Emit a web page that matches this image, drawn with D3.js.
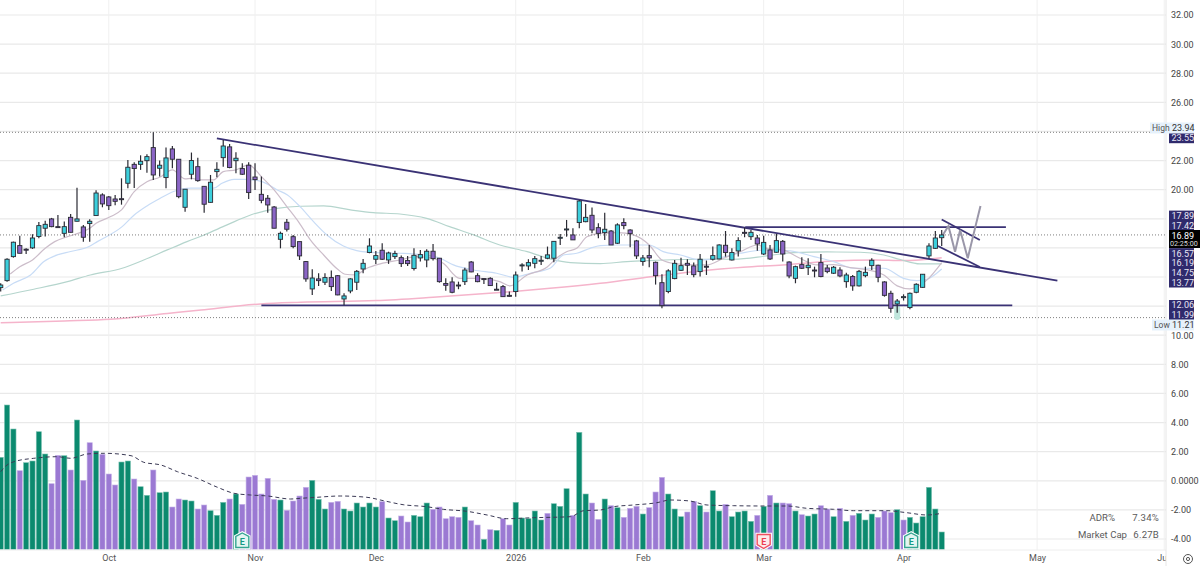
<!DOCTYPE html>
<html>
<head>
<meta charset="utf-8">
<script src="https://cdn.jsdelivr.net/npm/d3@7"></script>
<style>
  html, body { margin: 0; padding: 0; background: #fff; }
  svg { display: block; font-family: Roboto, "Liberation Sans", sans-serif; }
</style>
</head>
<body>
<script>
// daily candles, one entry per session
const opens = [13.27,13.75,15.40,16.16,15.91,16.00,16.78,17.35,17.99,17.46,
  17.00,18.10,17.83,17.44,17.67,18.22,19.64,19.50,19.36,19.38,
  20.44,21.74,21.74,21.99,22.89,21.47,20.83,22.80,22.09,18.79,
  21.06,21.58,20.23,19.13,21.24,22.20,22.94,21.99,21.45,21.68,
  20.87,19.68,19.41,18.81,16.59,17.76,16.77,16.43,15.06,13.18,
  13.87,13.64,13.96,14.09,12.49,13.04,13.64,14.55,15.68,15.22,
  15.84,15.17,15.40,15.33,15.13,14.58,15.31,15.17,15.77,15.29,
  13.55,13.66,13.45,13.68,15.03,14.09,13.89,13.91,13.16,13.34,
  12.74,13.00,14.78,14.76,14.94,15.10,15.29,15.29,16.66,17.28,
  16.89,17.74,17.80,18.24,17.39,17.05,17.16,16.32,17.74,17.23,
  16.48,15.06,15.47,15.01,13.61,13.00,13.89,14.46,14.94,14.76,
  14.37,14.74,15.22,15.24,16.18,15.17,15.79,17.07,16.77,16.68,
  15.58,15.86,15.70,16.45,15.03,13.91,14.85,14.64,14.48,14.99,
  14.62,14.26,14.48,13.68,14.03,13.39,14.09,14.78,14.81,13.66,
  12.88,12.15,12.58,11.90,12.95,13.29,15.45,15.97,16.70];
const highs = [13.57,15.29,16.43,16.84,15.97,16.94,17.78,17.87,18.06,18.26,
  17.81,18.33,20.14,17.58,17.97,19.96,19.75,19.57,19.64,20.78,
  22.04,21.88,22.36,22.43,23.94,22.00,22.89,23.00,22.09,20.03,
  22.55,22.20,20.26,21.01,21.88,23.42,23.14,22.57,21.81,21.88,
  21.81,20.90,19.64,18.88,17.12,17.99,16.89,16.43,15.10,14.53,
  14.26,14.26,14.44,14.14,12.88,13.91,14.48,15.24,16.66,15.79,
  16.32,15.74,15.81,15.47,15.45,15.97,15.86,15.90,16.27,15.29,
  13.91,13.98,13.68,14.64,15.10,14.26,13.91,13.98,13.61,13.45,
  13.00,14.37,14.94,15.22,15.45,15.45,16.09,16.48,16.96,17.92,
  17.35,19.29,19.02,18.77,17.69,18.42,17.23,17.69,18.03,17.28,
  16.55,15.51,16.20,15.06,14.19,14.53,15.17,15.33,15.22,14.99,
  15.58,15.13,16.09,16.25,17.16,15.97,16.73,17.39,17.23,16.89,
  16.84,16.20,16.96,16.55,15.08,14.78,15.35,15.29,14.71,15.58,
  14.83,14.76,14.67,14.30,14.14,14.48,14.71,15.29,14.85,13.71,
  13.06,12.49,12.81,12.93,13.57,14.21,16.32,17.16,17.23];
const lows = [13.00,13.68,15.33,15.63,15.58,15.93,16.66,16.78,17.42,17.42,
  16.73,17.05,17.81,16.43,16.43,18.20,18.79,18.61,18.93,18.97,
  20.10,20.12,21.36,21.17,20.67,20.90,20.10,21.47,19.41,18.49,
  20.71,20.55,18.42,19.11,20.85,21.58,21.47,21.13,21.01,19.36,
  19.98,19.07,18.42,17.35,15.97,17.12,15.97,15.17,13.68,12.77,
  13.39,13.45,13.04,12.74,12.06,12.88,13.11,14.26,15.63,14.90,
  15.17,14.90,15.24,14.69,14.76,14.44,15.06,14.67,15.13,13.61,
  13.06,12.88,13.16,13.45,14.32,13.64,13.52,13.39,13.11,12.65,
  12.65,12.65,14.37,14.48,14.60,14.83,15.22,15.01,16.20,16.77,
  16.55,17.35,17.76,17.00,16.66,16.55,16.20,16.27,17.28,16.04,
  15.24,14.78,14.67,13.48,11.85,12.88,13.84,14.42,14.14,13.98,
  14.03,14.14,15.13,15.22,15.40,15.13,15.40,16.73,16.55,15.81,
  15.51,15.17,15.67,15.06,13.91,13.57,14.55,14.14,13.98,13.98,
  14.26,14.21,13.98,13.27,13.06,13.34,13.98,14.48,13.64,12.65,
  11.55,11.55,12.38,11.78,12.88,13.27,15.29,15.93,16.13];
const closes = [13.45,15.22,16.39,15.63,15.86,16.68,17.53,17.62,17.46,17.44,
  17.46,17.07,17.99,16.73,17.83,19.77,19.02,18.90,19.20,19.36,
  21.54,21.45,21.95,22.27,21.01,21.68,22.18,22.09,19.52,20.03,
  22.00,20.62,19.00,20.51,21.40,23.00,21.52,22.16,21.06,19.80,
  20.69,19.27,18.95,17.35,17.00,17.28,16.09,15.45,13.87,13.93,
  13.75,13.96,13.34,12.77,12.70,13.87,14.39,14.94,16.13,15.47,
  15.22,15.65,15.61,14.92,14.92,15.49,15.54,15.77,15.26,13.68,
  13.43,12.95,13.39,14.48,14.35,13.68,13.84,13.41,13.11,12.65,
  12.70,14.14,14.83,14.99,15.26,15.15,15.52,16.45,16.73,17.30,
  16.55,19.22,18.10,17.23,17.00,17.28,16.20,17.58,17.53,16.98,
  15.45,15.31,15.31,14.09,12.03,14.42,14.94,14.78,14.81,14.16,
  15.22,14.69,15.47,16.20,15.68,15.68,16.50,17.00,17.07,16.27,
  16.38,15.24,16.50,15.58,14.07,14.71,14.60,14.81,14.46,14.03,
  14.37,14.67,14.07,14.14,13.39,14.39,14.32,15.15,13.98,12.74,
  11.85,12.35,12.65,12.88,13.50,14.19,16.13,16.68,16.89];

// volume in millions, g = green bar, p = purple bar
const volumes = [46.1,72.25,60.25,39.4,43.4,44.25,58.9,47.75,32.9,47.1,
  46.9,39.75,64.75,34.6,53.4,49.25,47.6,37.75,32.25,43.75,
  44.25,35.25,31.4,27.1,39.75,28.4,28.75,21.25,25.25,24.75,
  24.25,20.25,22.25,19.4,17.1,23.6,25.25,27.75,22.6,36.25,
  37.1,27.75,35.6,25.1,24.75,19.6,24.25,26.75,31.1,34.6,
  25.1,20.25,23.6,24.1,20.25,19.25,23.25,21.25,23.25,21.25,
  23.9,15.75,14.4,16.75,13.75,17.1,16.4,23.25,20.1,21.25,
  15.4,16.4,16.1,21.25,14.4,12.25,5.1,9.9,9.6,15.4,
  12.25,23.6,15.75,15.4,19.25,14.75,18.1,22.9,21.6,30.4,
  17.1,58.6,27.75,23.25,15.1,25.25,21.9,20.9,16.1,20.6,
  21.6,17.75,20.9,28.75,36.1,27.75,20.25,16.4,18.75,24.1,
  21.9,18.75,29.4,19.25,22.6,16.4,18.75,19.25,14.1,17.1,
  21.6,27.1,23.25,23.25,22.9,19.25,17.4,16.75,17.75,21.9,
  20.25,16.4,20.6,14.1,17.1,18.1,14.75,17.75,16.1,19.25,
  18.4,19.9,14.75,16.1,13.25,16.4,31.1,20.25,8.75];
const volumeSides = ("gggpggggpp" + "gpgppgpppg" + "gpggpggppg" + "gppgggpgpp" + "ppppgppppg"
  + "ggppgggggg" + "pggppgggpp" + "pppgppgpgp" + "pgggggpggg" + "pggppgpgpp"
  + "pgpppgggpp" + "gpggpggggp" + "gpgppgpggp" + "pgpgpgggpp" + "pgpgggggg").split("");

// moving averages as [session, price] readings
const ma10 = [[1.5,14.21],[3,14.71],[5,15.17],[7,15.97],[8.5,16.43],[10.5,16.77],[12.5,17.05],[14,17.35],[15,17.69],[17.3,18.15],[19,18.61],[21,19.87],[23,20.55],[25,20.85],[27,21.36],[29,20.74],[30,20.78],[31.5,20.67],[33.5,20.67],[35,21.24],[37,21.36],[39,21.7],[41,20.9],[43,19.98],[45,18.84],[47,17.69],[48.7,16.55],[50.8,15.51],[53,14.53],[54.2,14.19],[55.7,14.14],[57.6,14.6],[59.7,14.9],[62.8,15.17],[65.4,15.4],[68,15.29],[69.6,14.94],[72.2,13.91],[75.4,13.91],[78.5,13.68],[80.1,13.39],[82.8,14.14],[85.9,14.67],[87.4,15.29],[89,15.74],[90.6,15.97],[92.2,16.77],[94.3,17.0],[97,17.05],[99.5,16.89],[102,16.2],[104,15.17],[106.3,14.9],[109,14.83],[111,14.83],[113.7,15.29],[116.3,15.74],[119,16.2],[120.5,15.97],[123,15.86],[125.7,15.29],[128.4,14.83],[131,14.85],[133.6,14.65],[136.3,14.5],[138.9,14.14],[141,13.39],[143,13.18],[145.7,13.8],[148,14.99]];
const ma20 = [[0.3,13.1],[2,13.57],[4.7,14.14],[6.8,15.06],[8.9,15.52],[11,15.75],[13.9,16.09],[15.2,16.43],[19.1,17.46],[21,18.26],[23,18.88],[25.1,19.41],[27.2,19.87],[29.9,20.1],[32,20.1],[33.5,20.1],[34.8,20.44],[36.7,20.71],[38.5,20.71],[41.1,20.55],[43.5,19.98],[45.1,19.64],[47.2,18.78],[49.2,17.8],[51.3,16.89],[53.9,16.13],[56,15.81],[59.1,15.67],[62.8,15.63],[66.5,15.51],[69.1,15.29],[71.2,14.83],[74.4,14.48],[78,14.26],[80.7,13.98],[83.3,14.26],[86.4,14.6],[88.5,15.51],[90.6,15.63],[92.7,15.97],[94.3,16.15],[96.9,16.2],[99.5,16.2],[102,16.2],[104.2,15.74],[106.9,15.51],[110,15.17],[112.6,15.29],[116.3,15.63],[120.5,15.86],[124.2,15.79],[127.9,15.4],[131,15.06],[134.1,14.6],[138.9,14.6],[142,13.91],[144.1,13.75],[145.4,13.8],[148,14.55]];
const ma50 = [[0,12.7],[5.2,13.16],[10.5,13.68],[14.1,14.14],[19.1,14.6],[22.5,15.17],[26.2,15.86],[29.3,16.43],[32,16.89],[35.6,17.58],[39.3,18.26],[43.5,18.72],[47.2,18.86],[50.8,18.88],[55,18.61],[58.6,18.42],[62.8,18.33],[67,18.03],[70.6,17.46],[74.4,16.89],[78.5,16.2],[82.8,15.74],[86.4,15.24],[89.6,14.99],[94.3,14.92],[98.5,15.06],[102,15.13],[110,15.22],[115.3,15.22],[120.5,15.45],[124.7,15.68],[130,15.72],[135.2,15.7],[138.9,15.51],[141.5,15.2],[144.6,14.9],[148,14.9]];
const ma200 = [[0,10.85],[10,10.98],[17.3,11.1],[26.2,11.5],[31.5,11.74],[40.9,12.15],[47.2,12.26],[59.1,12.38],[68,12.61],[78.5,12.93],[86.4,13.22],[94.3,13.57],[103.2,14.07],[110,14.42],[116.8,14.67],[123,14.83],[131,15.1],[137.3,15.17],[142,15.13],[148,15.33]];
const volumeMa = [[0,38.9],[1,42.25],[2.1,43.9],[5.2,45.6],[8.9,46.4],[11,45.6],[13.6,47.75],[16.3,48.1],[20.5,46.9],[22.5,43.6],[25.2,42.25],[27.8,38.9],[30.9,35.6],[34.1,31.1],[36.7,28.1],[39.3,27.25],[42,26.75],[45.6,25.25],[47.2,25.6],[49.7,26.1],[53.4,26.75],[57.6,26.1],[60.2,24.4],[63.3,22.4],[67,21.4],[69.6,20.1],[73.3,19.1],[76.5,17.25],[79.6,15.4],[83.8,15.9],[89.6,16.4],[91.7,19.4],[94.3,19.75],[96.4,21.4],[99.5,22.25],[103.2,23.4],[105.3,24.75],[108.4,24.25],[111.1,22.25],[115.3,21.9],[120.5,21.75],[123.7,21.75],[126.8,20.6],[131,20.1],[134.1,19.4],[139.4,19.4],[142.5,18.4],[145.7,17.25],[148,18.1]];

// hand drawn lines, [session, price] end points
const trendLines = [
  [[34,23.52],[166.2,13.75]],
  [[41,12.05],[159.1,12.05]],
  [[117.1,17.42],[158.1,17.42]],
  [[148,17.95],[154,16.54]],
  [[147.4,16.13],[154,14.69]]
];
const projection = [[148,16.77],[149.06,17.5],[150.1,15.74],[150.9,17.23],[152.1,15.29],[153.3,17.46],[154.1,18.88]];

const priceTicks = [32,30,28,26,24,22,20,18,16,14,12,10,8,6,4,2,0,-2,-4];
const hiddenTicks = [24,18,16,14,12];
const monthSessions = [17,40,59,81,101,120,142,163,183];
const monthLabels = ["Oct","Nov","Dec","2026","Feb","Mar","Apr","May","Jun"];
const dottedLevels = [23.94,16.89,11.21];
const levelBadges = [23.55,17.89,17.42,16.57,16.19,14.75,13.77,12.06,11.99];
const badgeSlots = [138,215.8,225.8,253.3,263,272.6,282.3,305.2,315.2];
const earnings = [{ s: 38, kind: "up" }, { s: 120, kind: "down" }, { s: 143.2, kind: "up" }];

const W = 1200, H = 566, paneR = 1166;
const C_UP = "#3ccfdc", C_DOWN = "#8b65c6", C_EDGE = "#2a2a33", C_LINE = "#3a3275";
const V_UP = "#0b8a6f", V_DOWN = "#9b79d3";

const x = d3.scaleLinear().domain([0, 148]).range([0.7, 941.7]);
const y = d3.scaleLinear().domain([-4, 32]).range([539, 15]);
const yVol = d3.scaleLinear().domain([0, 72]).range([549.5, 405.5]);
const sessions = d3.range(closes.length);

const svg = d3.select("body").append("svg").attr("width", W).attr("height", H);
svg.append("defs").append("clipPath").attr("id", "pane")
  .append("rect").attr("width", paneR).attr("height", H);

const pane = svg.append("g").attr("clip-path", "url(#pane)");

// grid
pane.selectAll(".hgrid").data(priceTicks).enter().append("line")
  .attr("x1", 0).attr("x2", paneR).attr("y1", d => y(d)).attr("y2", d => y(d))
  .attr("stroke", "#e9e9e9").attr("stroke-width", 1.2);
pane.selectAll(".vgrid").data(monthSessions).enter().append("line")
  .attr("x1", d => x(d)).attr("x2", d => x(d)).attr("y1", 0).attr("y2", 550)
  .attr("stroke", "#f0f0f0").attr("stroke-width", 1);
svg.append("line").attr("x1", 0).attr("x2", paneR).attr("y1", 550).attr("y2", 550).attr("stroke", "#eeeeee");
svg.append("line").attr("x1", paneR).attr("x2", paneR).attr("y1", 0).attr("y2", H).attr("stroke", "#e6e6e6");

// volume
pane.selectAll(".vol").data(sessions).enter().append("rect")
  .attr("x", i => x(i) - 2.6).attr("width", 5.2)
  .attr("y", i => yVol(volumes[i])).attr("height", i => yVol(0) - yVol(volumes[i]))
  .attr("fill", i => volumeSides[i] === "g" ? V_UP : V_DOWN)
  .attr("stroke", i => volumeSides[i] === "g" ? "#7fc2b3" : "#c6b4e8").attr("stroke-width", 0.6);

const vLine = d3.line().x(d => x(d[0])).y(d => yVol(d[1])).curve(d3.curveMonotoneX);
pane.append("path").attr("d", vLine(volumeMa)).attr("fill", "none")
  .attr("stroke", "#3b3a55").attr("stroke-width", 1).attr("stroke-dasharray", "4 3");

// moving averages
const pLine = d3.line().x(d => x(d[0])).y(d => y(d[1])).curve(d3.curveMonotoneX);
[[ma200, "#f5b4cb", 1.5], [ma50, "#b5d5cd", 1.2], [ma20, "#c8dcf6", 1.2], [ma10, "#ccbdca", 1.2]].forEach(([series, color, w]) => {
  pane.append("path").attr("d", pLine(series)).attr("fill", "none").attr("stroke", color).attr("stroke-width", w);
});

// dotted levels
pane.selectAll(".level").data(dottedLevels).enter().append("line")
  .attr("x1", 0).attr("x2", paneR).attr("y1", d => y(d)).attr("y2", d => y(d))
  .attr("stroke", "#7f7f7f").attr("stroke-width", 1).attr("stroke-dasharray", "1 2");

// low marker behind the last candles
pane.append("rect").attr("x", x(141) - 3).attr("y", y(11.99) - 1).attr("width", 6).attr("height", y(11.05) - y(11.99) + 1)
  .attr("rx", 3).attr("fill", "#bfe6dc");

// drawn lines
const straight = d3.line().x(d => x(d[0])).y(d => y(d[1]));
trendLines.forEach(seg => {
  pane.append("path").attr("d", straight(seg)).attr("fill", "none").attr("stroke", C_LINE).attr("stroke-width", 1.8);
});
pane.append("path").attr("d", straight(projection)).attr("fill", "none")
  .attr("stroke", "#9a97a9").attr("stroke-width", 2);

// candles
pane.selectAll(".wick").data(sessions).enter().append("line")
  .attr("x1", i => x(i)).attr("x2", i => x(i))
  .attr("y1", i => y(highs[i])).attr("y2", i => y(lows[i]))
  .attr("stroke", C_EDGE).attr("stroke-width", 1.2);
pane.selectAll(".body").data(sessions).enter().append("rect")
  .attr("x", i => x(i) - 2.1).attr("width", 4.2)
  .attr("y", i => y(Math.max(opens[i], closes[i])))
  .attr("height", i => Math.max(1, Math.abs(y(opens[i]) - y(closes[i]))))
  .attr("fill", i => closes[i] >= opens[i] ? C_UP : C_DOWN)
  .attr("stroke", C_EDGE).attr("stroke-width", 0.9);

// earnings flags
const flag = pane.selectAll(".flag").data(earnings).enter().append("g")
  .attr("transform", d => `translate(${x(d.s)},541)`);
const flagShape = d => d.kind === "up"
  ? "M0,-8 L6.5,-4.5 V6.5 H-6.5 V-4.5 Z"
  : "M-6.5,-6.5 H6.5 V3.5 L0,7.5 L-6.5,3.5 Z";
flag.append("path").attr("d", flagShape)
  .attr("fill", "#fff").attr("stroke", "#fff").attr("stroke-width", 3.5);
flag.append("path").attr("d", flagShape)
  .attr("fill", d => d.kind === "up" ? "#e3f5f1" : "#fdeaea")
  .attr("stroke", d => d.kind === "up" ? "#35a592" : "#f04e5e").attr("stroke-width", 1.4);
flag.append("text").text("E").attr("text-anchor", "middle").attr("y", 3.5)
  .attr("font-size", 9).attr("font-weight", 700)
  .attr("fill", d => d.kind === "up" ? "#159a84" : "#ec3e50");

// axes
const yAxis = d3.axisRight(y).tickValues(priceTicks.filter(t => !hiddenTicks.includes(t))).tickSize(0).tickPadding(0)
  .tickFormat(d => d === 0 ? "0.0000" : d.toFixed(2));
const yG = svg.append("g").attr("transform", "translate(1171,0)").call(yAxis);
yG.select(".domain").remove();
yG.selectAll("text").attr("font-size", 9).attr("fill", "#444").attr("font-family", "Roboto, sans-serif");

const xAxis = d3.axisBottom(x).tickValues(monthSessions).tickSize(0).tickPadding(0)
  .tickFormat((d, i) => monthLabels[i]);
const xG = pane.append("g").attr("transform", "translate(0,555)").call(xAxis);
xG.select(".domain").remove();
xG.selectAll("text").attr("font-size", 9).attr("fill", "#555").attr("font-family", "Roboto, sans-serif");

// price badges
const badge = svg.selectAll(".badge").data(levelBadges).enter().append("g")
  .attr("transform", (d, i) => `translate(1169,${badgeSlots[i]})`);
badge.append("rect").attr("y", -5.2).attr("width", 25).attr("height", 10.4).attr("fill", "#2f2a6c");
badge.append("text").attr("x", 2.5).attr("y", 3.2).attr("font-size", 9).attr("fill", "#e8e6f5").text(d => d.toFixed(2));

svg.append("rect").attr("x", 1169).attr("y", 230).attr("width", 31).attr("height", 18).attr("fill", "#000");
svg.append("text").attr("x", 1171.5).attr("y", 238.8).attr("font-size", 9).attr("fill", "#fff").text("16.89");
svg.append("text").attr("x", 1170).attr("y", 245.8).attr("font-size", 7.2).attr("fill", "#ddd").text("02:25:00");

// high and low tags
[["High", 23.94, 128, 1150], ["Low", 11.21, 325, 1152]].forEach(([name, val, cy, left]) => {
  svg.append("rect").attr("x", left).attr("y", cy - 5.5).attr("width", 1194 - left).attr("height", 11).attr("fill", "#e6f1fb");
  svg.append("text").attr("x", left + 2).attr("y", cy + 3.2).attr("font-size", 8.5).attr("fill", "#555").text(name);
  svg.append("text").attr("x", 1172).attr("y", cy + 3.2).attr("font-size", 9).attr("fill", "#333").text(val.toFixed(2));
});

// stats table
[["ADR%", "7.34%", 517, 1115], ["Market Cap", "6.27B", 534, 1127]].forEach(([name, val, cy, right]) => {
  svg.append("text").attr("x", right).attr("y", cy + 3.5).attr("text-anchor", "end")
    .attr("font-size", 9.6).attr("fill", "#5a5a5a").text(name);
  svg.append("text").attr("x", 1159).attr("y", cy + 3.5).attr("text-anchor", "end")
    .attr("font-size", 9.6).attr("letter-spacing", 0.2).attr("fill", "#5a5a5a").text(val);
});

// settings icon
svg.append("circle").attr("cx", 1188).attr("cy", 559).attr("r", 4.5).attr("fill", "none").attr("stroke", "#555").attr("stroke-width", 1);
svg.append("circle").attr("cx", 1188).attr("cy", 559).attr("r", 1.6).attr("fill", "none").attr("stroke", "#555").attr("stroke-width", 1);
</script>
</body>
</html>
